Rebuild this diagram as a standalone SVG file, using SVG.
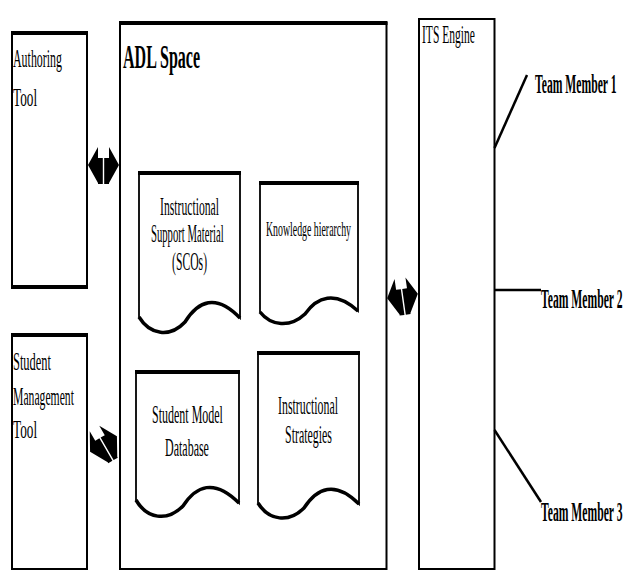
<svg xmlns="http://www.w3.org/2000/svg" width="626" height="571" viewBox="0 0 626 571">
  <style>
    .box { fill: #fff; stroke: #000; stroke-width: 2; }
    .thick { stroke: #000; stroke-width: 4; fill: none; }
    .doc { fill: #fff; stroke: #000; stroke-width: 1.8; }
    .wave { fill: none; stroke: #000; stroke-width: 3.5; }
    .t { font-family: "Liberation Serif", "Times New Roman", serif; font-size: 25px; fill: #000; }
    .k { font-family: "Liberation Serif", "Times New Roman", serif; font-size: 21px; fill: #000; }
    .h { font-family: "Liberation Serif", "Times New Roman", serif; font-weight: bold; font-size: 33px; fill: #000; }
    .b { font-family: "Liberation Serif", "Times New Roman", serif; font-weight: bold; font-size: 27px; fill: #000; }
    .ln { stroke: #000; stroke-width: 2.5; fill: none; }
  </style>
  <defs>
    <g id="dblarrow">
      <path d="M-15.5,0 L-5.5,-18 L-5.5,-7 L-0.7,-7 L-0.7,19 L-5.5,19 L-5.5,18 Z" fill="#000"/>
      <path d="M15.5,0 L5.5,-18 L5.5,-7 L0.7,-7 L0.7,19 L5.5,19 L5.5,18 Z" fill="#000"/>
    </g>
  </defs>

  <g id="authoring-tool">
    <rect class="box" x="12" y="33" width="75" height="254"/>
    <line class="thick" x1="11" y1="33" x2="88" y2="33"/>
    <line class="thick" x1="11" y1="287" x2="88" y2="287"/>
    <text class="t" transform="translate(13,67) scale(0.477,1)">Authoring</text>
    <text class="t" transform="translate(13,106) scale(0.53,1)">Tool</text>
  </g>

  <g id="student-management-tool">
    <rect class="box" x="12" y="335" width="75" height="234"/>
    <line class="thick" x1="11" y1="335" x2="88" y2="335"/>
    <text class="t" transform="translate(13,370) scale(0.497,1)">Student</text>
    <text class="t" transform="translate(13,405) scale(0.467,1)">Management</text>
    <text class="t" transform="translate(13,438) scale(0.53,1)">Tool</text>
  </g>

  <g id="adl-space">
    <rect class="box" x="120" y="23" width="266.5" height="546"/>
    <line class="thick" x1="119" y1="23" x2="387.5" y2="23"/>
    <text class="h" transform="translate(123,68) scale(0.486,1)">ADL Space</text>
  </g>

  <g id="instructional-support-material">
    <path class="doc" d="M139,173 H240 V318 C216,293 198,301 185,322 C170,338 150,335 139,317 Z"/>
    <line class="thick" x1="138" y1="173" x2="241" y2="173"/>
    <path class="wave" d="M240,318 C216,293 198,301 185,322 C170,338 150,335 139,317"/>
    <text class="t" transform="translate(160,215) scale(0.467,1)">Instructional</text>
    <text class="t" transform="translate(151,242) scale(0.427,1)">Support Material</text>
    <text class="t" transform="translate(172,270) scale(0.467,1)">(SCOs)</text>
  </g>

  <g id="knowledge-hierarchy">
    <path class="doc" d="M260,183 H358 V311 C335,290 317,297 305,314 C290,328 271,326 260,312 Z"/>
    <line class="thick" x1="259" y1="183" x2="359" y2="183"/>
    <path class="wave" d="M358,311 C335,290 317,297 305,314 C290,328 271,326 260,312"/>
    <text class="k" transform="translate(266,236) scale(0.469,1)">Knowledge hierarchy</text>
  </g>

  <g id="student-model-database">
    <path class="doc" d="M136,372 H239 V503 C214,478 196,486 183,506 C167,522 147,519 136,500 Z"/>
    <line class="thick" x1="135" y1="372" x2="240" y2="372"/>
    <path class="wave" d="M239,503 C214,478 196,486 183,506 C167,522 147,519 136,500"/>
    <text class="t" transform="translate(152,423) scale(0.48,1)">Student Model</text>
    <text class="t" transform="translate(165,456) scale(0.48,1)">Database</text>
  </g>

  <g id="instructional-strategies">
    <path class="doc" d="M258,353 H359 V504 C335,480 317,488 304,508 C289,523 269,521 258,503 Z"/>
    <line class="thick" x1="257" y1="353" x2="360" y2="353"/>
    <path class="wave" d="M359,504 C335,480 317,488 304,508 C289,523 269,521 258,503"/>
    <text class="t" transform="translate(278,414) scale(0.475,1)">Instructional</text>
    <text class="t" transform="translate(285,443) scale(0.477,1)">Strategies</text>
  </g>

  <g id="its-engine">
    <rect class="box" x="419" y="19" width="75.5" height="550"/>
    <text class="t" transform="translate(422,43) scale(0.462,1)">ITS Engine</text>
  </g>

  <g id="team-member-1">
    <text class="b" transform="translate(535,93) scale(0.432,1)">Team Member 1</text>
  </g>
  <g id="team-member-2">
    <text class="b" transform="translate(541,308) scale(0.432,1)">Team Member 2</text>
  </g>
  <g id="team-member-3">
    <text class="b" transform="translate(541,521) scale(0.432,1)">Team Member 3</text>
  </g>

  <g id="connectors">
    <use href="#dblarrow" transform="translate(103.5,165)"/>
    <use href="#dblarrow" transform="translate(103.5,444) rotate(-30)"/>
    <use href="#dblarrow" transform="translate(402.5,296) rotate(-8)"/>
    <line class="ln" x1="494.5" y1="148" x2="527" y2="75"/>
    <line class="ln" x1="494.5" y1="290" x2="541" y2="290" stroke-width="3.5"/>
    <line class="ln" x1="494.5" y1="430" x2="541" y2="502"/>
  </g>
</svg>
